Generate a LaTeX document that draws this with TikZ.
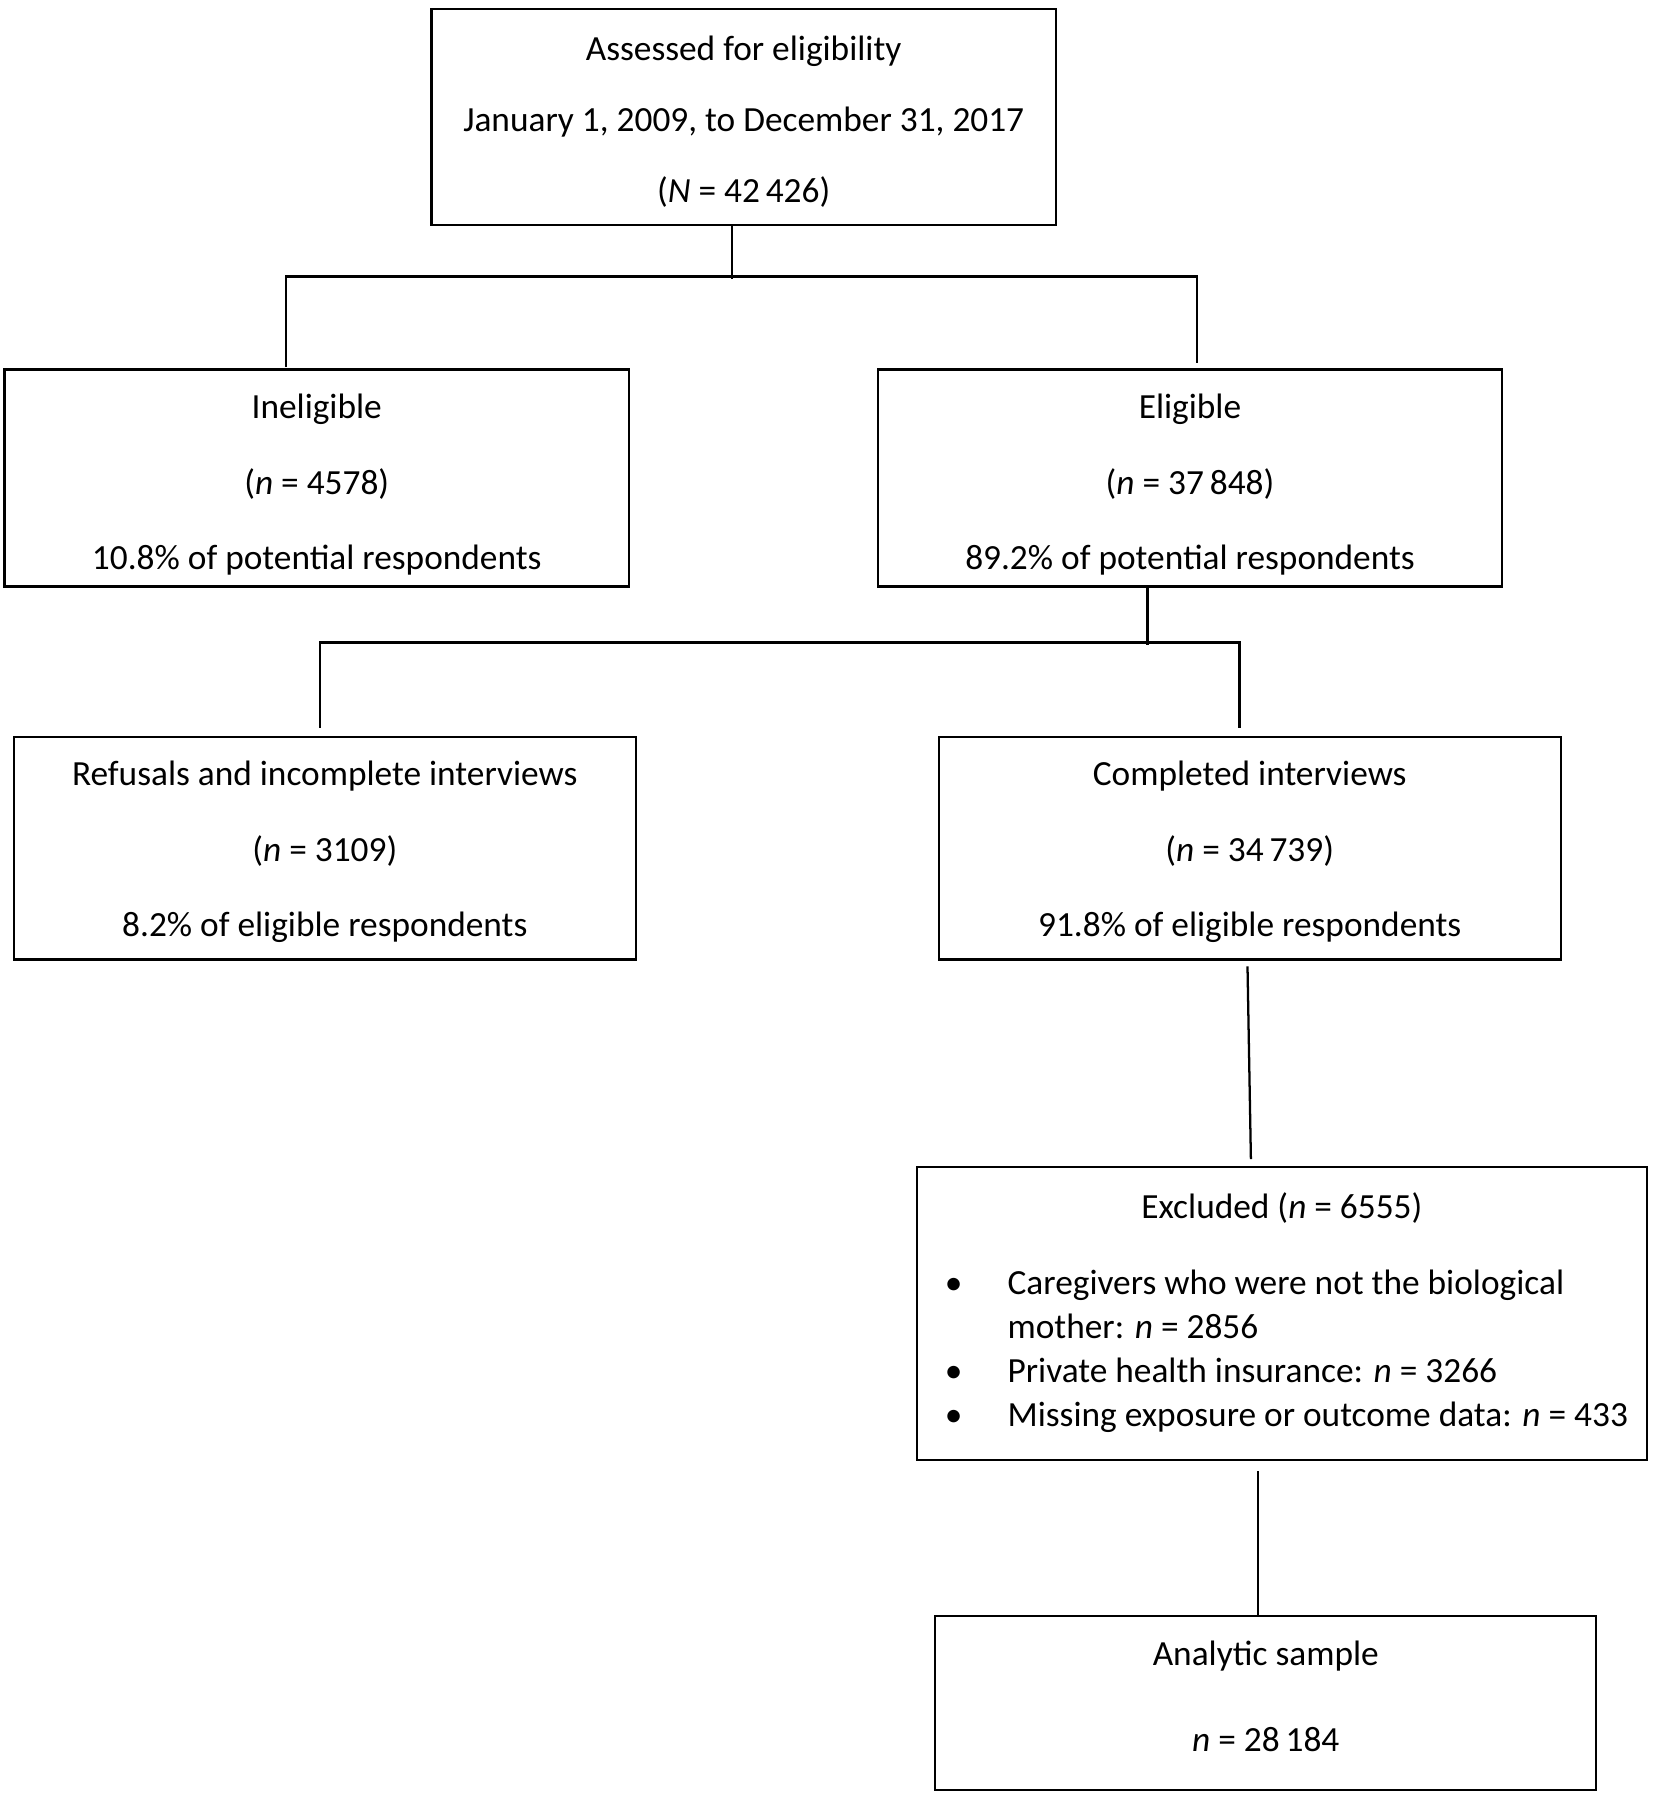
\documentclass[tikz,border=0pt]{standalone}
\usepackage{fontspec}
\setmainfont{Carlito}

\tikzset{
  flowbox/.style={draw, line width=1.7pt, inner sep=0pt, align=center,
    font=\fontsize{26.5}{55}\selectfont},
  link/.style={line width=1.7pt},
}

\begin{document}
\begin{tikzpicture}[x=0.75pt,y=0.75pt,yscale=-1,xscale=1]
%set diagram to the size of the page
\useasboundingbox (0,0) rectangle (1656,1800);

% Text Node
\node [flowbox, minimum width=468.2pt, minimum height=161.8pt, font=\fontsize{26.5}{53.3}\selectfont] (assess) at (743.65,117)
  {\rule{0pt}{25pt}Assessed for eligibility\\January 1, 2009, to December 31, 2017\\(\textit{N} = 42\,426)};
% Text Node
\node [flowbox, minimum width=468.2pt, minimum height=162.7pt] (inelig) at (316.75,478)
  {\rule{0pt}{28.6pt}Ineligible\\[1.5pt](\textit{n} = 4578)\\[1.5pt]10.8\% of potential respondents};
% Text Node
\node [flowbox, minimum width=468.2pt, minimum height=162.7pt] (elig) at (1190,478)
  {\rule{0pt}{28.6pt}Eligible\\[1.5pt](\textit{n} = 37\,848)\\[1.5pt]89.2\% of potential respondents};
% Text Node
\node [flowbox, minimum width=466.5pt, minimum height=167pt] (refusal) at (324.8,848.1)
  {\rule{0pt}{24.3pt}Refusals and incomplete interviews\\[1.5pt](\textit{n} = 3109)\\[1.5pt]8.2\% of eligible respondents};
% Text Node
\node [flowbox, minimum width=466.5pt, minimum height=167pt] (complete) at (1249.7,848.1)
  {\rule{0pt}{24.3pt}Completed interviews\\[1.5pt](\textit{n} = 34\,739)\\[1.5pt]91.8\% of eligible respondents};
% Text Node
\node [flowbox, minimum width=547.4pt, minimum height=219.6pt, font=\fontsize{26.5}{33}\selectfont] (exclude) at (1281.9,1313.4)
  {\begin{tabular}{@{\hspace{6.8pt}}p{47pt}@{}l@{}}
   \multicolumn{2}{@{}c@{}}{Excluded (\textit{n} = 6555)}\\[24pt]
   \textbullet & Caregivers who were not the biological\\
               & mother: \textit{n} = 2856\\
   \textbullet & Private health insurance: \textit{n} = 3266\\
   \textbullet & Missing exposure or outcome data: \textit{n} = 433
   \end{tabular}};
% Text Node
\node [flowbox, minimum width=495.8pt, minimum height=130.9pt] (sample) at (1265.8,1703)
  {Analytic sample\\[9.5pt]\textit{n} = 28\,184\rule[-10.4pt]{0pt}{10.4pt}};

% Connection
\coordinate (split1) at (732,276.6);
\coordinate (inTop) at (285.8,367);
\coordinate (elTop) at (1197,362.6);
\draw [link] (assess.south -| split1) -- ([yshift=2]split1);
\draw [link] (inTop) |- (split1) -| (elTop);
% Connection
\coordinate (split2) at (1147.6,642.6);
\coordinate (refTop) at (320.2,727.6);
\coordinate (comTop) at (1239.4,727.6);
\draw [link] (elig.south -| split2) -- ([yshift=2]split2);
\draw [link] (refTop) |- (split2) -| (comTop);
% Connection
\coordinate (comOut) at (1247.5,966.3);
\coordinate (excIn) at (1250.9,1159.1);
\draw [link] (comOut) -- (excIn);
% Connection
\coordinate (excOut) at (1257.8,1471);
\draw [link] (excOut) -- (excOut |- sample.north);

\end{tikzpicture}
\end{document}
